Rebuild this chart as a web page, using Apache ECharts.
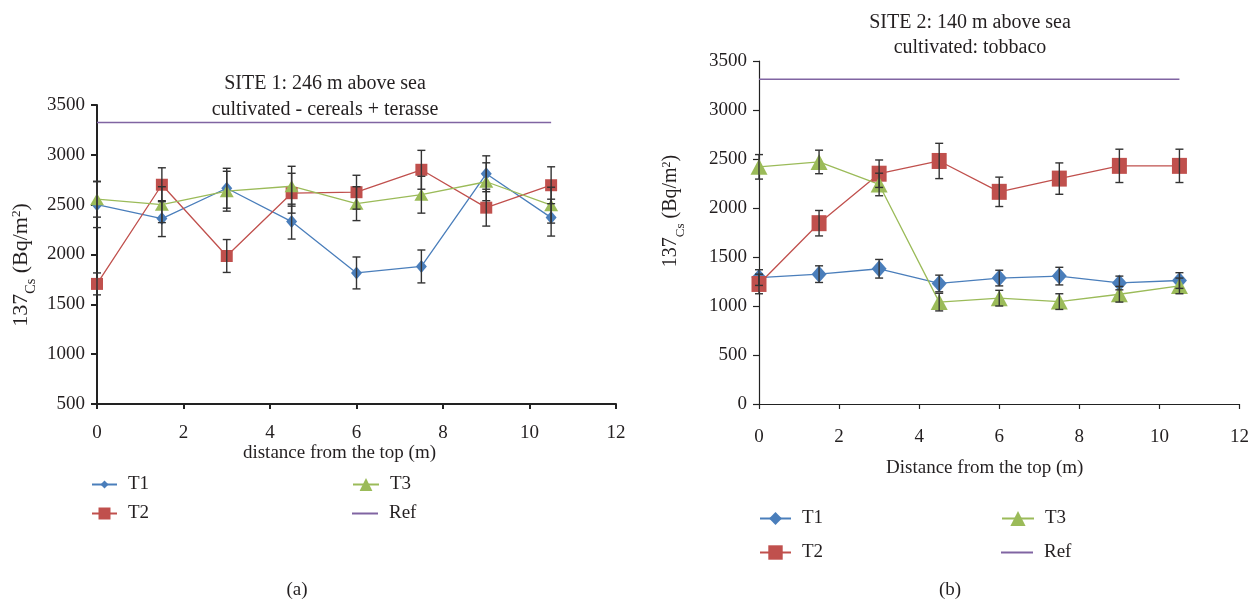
<!DOCTYPE html>
<html>
<head>
<meta charset="utf-8">
<script src="https://cdn.jsdelivr.net/npm/echarts@6/dist/echarts.min.js"></script>
<style>
  html, body { margin: 0; padding: 0; background: #fff; }
  #chart { width: 1252px; height: 601px; }
</style>
</head>
<body>
<div id="chart"></div>
<script>
// distance from the top (m), shared by both sites
const depth = [0, 1.5, 3, 4.5, 6, 7.5, 9, 10.5];
const refSpan = [0, 10.5];

// site 1 (a)
const s1T1 = [2500, 2360, 2665, 2330, 1815, 1880, 2810, 2370];
const s1T2 = [1705, 2700, 1985, 2615, 2625, 2850, 2470, 2695];
const s1T3 = [2555, 2500, 2635, 2685, 2510, 2600, 2730, 2495];
const s1T1Err = [230, 180, 200, 175, 160, 165, 180, 185];
const s1T2Err = [110, 170, 165, 200, 170, 195, 185, 185];
const s1T3Err = [180, 180, 200, 200, 170, 185, 190, 180];
const s1Ref = 3325;

// site 2 (b)
const s2T1 = [1290, 1325, 1380, 1230, 1285, 1305, 1235, 1260];
const s2T2 = [1225, 1845, 2350, 2480, 2165, 2300, 2430, 2430];
const s2T3 = [2420, 2470, 2240, 1040, 1080, 1045, 1120, 1205];
const s2T1Err = [80, 85, 95, 85, 80, 90, 70, 80];
const s2T2Err = [100, 130, 140, 180, 150, 160, 170, 170];
const s2T3Err = [125, 120, 115, 90, 80, 80, 80, 80];
const s2Ref = 3315;

const FONT = "'Liberation Serif', 'DejaVu Serif', serif";
const TXT = "#231f20";
const C1 = "#4a7ebb", C2 = "#c0504d", C3 = "#9bbb59", CR = "#8064a2";

const chart = echarts.init(document.getElementById("chart"));

const pts = vals => depth.map((d, i) => [d, vals[i]]);
const errPts = (vals, err) => depth.map((d, i) => [d, vals[i] - err[i], vals[i] + err[i]]);

const lineSeries = (name, vals, gi, symbol, size, color) => ({
  name, type: "line", xAxisIndex: gi, yAxisIndex: gi,
  data: pts(vals), symbol, symbolSize: size, showAllSymbol: true,
  lineStyle: { color, width: 1.3 }, itemStyle: { color, opacity: 1 },
  animation: false, z: 2,
});

const renderErr = (params, api) => {
  const x = api.value(0);
  const top = api.coord([x, api.value(2)]);
  const bot = api.coord([x, api.value(1)]);
  const w = 4;
  const st = { stroke: "#333", lineWidth: 1.4 };
  return {
    type: "group",
    children: [
      { type: "line", shape: { x1: top[0], y1: top[1], x2: bot[0], y2: bot[1] }, style: st },
      { type: "line", shape: { x1: top[0] - w, y1: top[1], x2: top[0] + w, y2: top[1] }, style: st },
      { type: "line", shape: { x1: bot[0] - w, y1: bot[1], x2: bot[0] + w, y2: bot[1] }, style: st },
    ],
  };
};

const errSeries = (vals, err, gi) => ({
  type: "custom", xAxisIndex: gi, yAxisIndex: gi,
  data: errPts(vals, err), encode: { x: 0, y: [1, 2] },
  renderItem: renderErr, z: 5, silent: true, animation: false,
});

const refSeries = (val, gi) => ({
  name: "Ref", type: "line", xAxisIndex: gi, yAxisIndex: gi,
  data: refSpan.map(d => [d, val]), symbol: "none",
  lineStyle: { color: CR, width: 1.5 }, itemStyle: { color: CR }, animation: false,
});

const axisText = { fontFamily: FONT, fontSize: 19, color: TXT };

const xAxis = (gi, name, gap, margin, lw, shift) => ({
  type: "value", gridIndex: gi, min: 0, max: 12, interval: 2,
  name, nameLocation: "middle", nameGap: gap,
  nameTextStyle: Object.assign({ padding: [0, shift, 0, 0] }, axisText),
  axisLine: { lineStyle: { color: "#222", width: lw } },
  axisTick: { length: 5, lineStyle: { color: "#222", width: lw } },
  axisLabel: Object.assign({ margin }, axisText),
  splitLine: { show: false },
});

const yAxis = (gi, min, lw) => ({
  type: "value", gridIndex: gi, min, max: 3500, interval: 500,
  axisLine: { show: true, lineStyle: { color: "#222", width: lw } },
  axisTick: { show: true, length: 6, lineStyle: { color: "#222", width: lw } },
  axisLabel: Object.assign({ margin: 12, formatter: v => String(v) }, axisText),
  splitLine: { show: false },
});

const legendItem = (name, left, cy, ih, iw, icon) => {
  const d = { name };
  if (icon) { d.icon = icon; d.itemStyle = { color: CR }; }
  return {
    data: [d], left, top: cy - Math.max(ih, 20) / 2, padding: 0,
    itemWidth: iw, itemHeight: ih, selectedMode: false,
    textStyle: { fontFamily: FONT, fontSize: 19, color: TXT, padding: [0, 0, 0, 6] },
  };
};

const yName = (x, y, fs) => ({
  type: "text", x, y, rotation: Math.PI / 2,
  style: {
    text: "{a|137}{b|Cs}{a| (Bq/m}{c|2}{a|)}",
    align: "center", verticalAlign: "middle", fill: TXT,
    rich: {
      a: { fontFamily: FONT, fontSize: fs, lineHeight: fs + 6, verticalAlign: "top", fill: TXT },
      b: { fontFamily: FONT, fontSize: fs * 0.65, lineHeight: fs * 0.65, verticalAlign: "bottom", fill: TXT },
      c: { fontFamily: FONT, fontSize: fs * 0.6, lineHeight: fs * 0.6, verticalAlign: "top", fill: TXT },
    },
  },
});

const label = (text, x, y, size) => ({
  type: "text", x, y,
  style: { text, align: "center", verticalAlign: "middle", fontFamily: FONT, fontSize: size || 19, fill: TXT },
});

const option = {
  backgroundColor: "#fff",
  animation: false,
  grid: [
    { left: 97, top: 105, width: 519, height: 299 },
    { left: 759, top: 61, width: 481, height: 343 },
  ],
  xAxis: [
    xAxis(0, "distance from the top (m)", 38, 20, 2, 34),
    xAxis(1, "Distance from the top (m)", 55, 24, 1.2, 29),
  ],
  yAxis: [yAxis(0, 500, 2), yAxis(1, 0, 1.2)],
  legend: [
    legendItem("T1", 91, 485, 10, 25),
    legendItem("T3", 352, 485, 16, 26),
    legendItem("T2", 91, 514, 15, 25),
    legendItem("Ref", 352, 514, 2, 26, "rect"),
    legendItem("T1", 759, 519, 16, 31),
    legendItem("T3", 1001, 519, 19, 32),
    legendItem("T2", 759, 553, 18, 31),
    legendItem("Ref", 1001, 553, 2, 32, "rect"),
  ],
  graphic: [
    label("SITE 1: 246 m above sea", 325, 84, 20),
    label("cultivated - cereals + terasse", 325, 110, 20),
    label("SITE 2: 140 m above sea", 970, 23, 20),
    label("cultivated: tobbaco", 970, 48, 20),
    yName(24, 265, 22),
    yName(674, 211, 20),
    label("(a)", 297, 590),
    label("(b)", 950, 590),
  ],
  series: [
    refSeries(s1Ref, 0),
    lineSeries("T1", s1T1, 0, "diamond", [11, 13], C1),
    lineSeries("T2", s1T2, 0, "rect", [12, 12], C2),
    lineSeries("T3", s1T3, 0, "triangle", [14, 12], C3),
    errSeries(s1T1, s1T1Err, 0),
    errSeries(s1T2, s1T2Err, 0),
    errSeries(s1T3, s1T3Err, 0),
    refSeries(s2Ref, 1),
    lineSeries("T1", s2T1, 1, "diamond", [15, 17], C1),
    lineSeries("T2", s2T2, 1, "rect", [15, 16], C2),
    lineSeries("T3", s2T3, 1, "triangle", [17, 16], C3),
    errSeries(s2T1, s2T1Err, 1),
    errSeries(s2T2, s2T2Err, 1),
    errSeries(s2T3, s2T3Err, 1),
  ],
};

chart.setOption(option);
</script>
</body>
</html>
